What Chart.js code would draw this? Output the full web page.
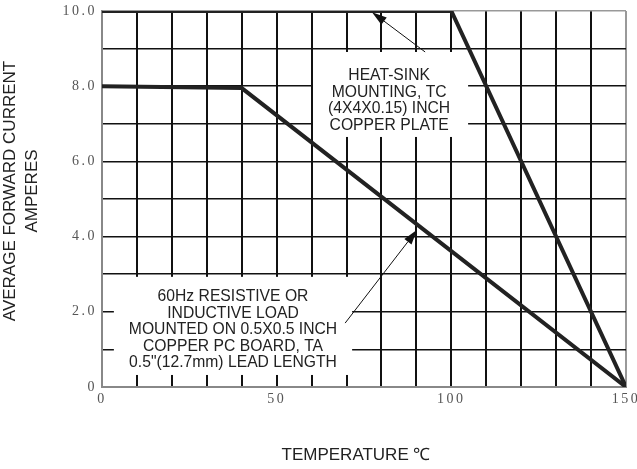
<!DOCTYPE html>
<html><head><meta charset="utf-8">
<script src="https://cdn.jsdelivr.net/npm/chart.js@4/dist/chart.umd.min.js"></script>
<style>html,body{margin:0;padding:0;background:#fff;overflow:hidden}#wrap{width:637px;height:469px;position:relative}</style>
</head><body><div id="wrap"><canvas id="c" width="637" height="469"></canvas></div>
<script>
// ---- data ----
const heatSinkTemps = [0, 100, 150];
const heatSinkAmps  = [10, 10, 0];
const pcBoardTemps  = [0, 40, 150];
const pcBoardAmps   = [8, 7.95, 0];
const xTickValues = [0, 50, 100, 150];
const yTickValues = [0, 2, 4, 6, 8, 10];
const yTickLabels = ['0', '2.0', '4.0', '6.0', '8.0', '10.0'];
const yTitleLines = ['AVERAGE FORWARD CURRENT', 'AMPERES'];
const xTitle = 'TEMPERATURE \u2103';
const heatSinkNote = ['HEAT-SINK', 'MOUNTING, TC', '(4X4X0.15) INCH', 'COPPER PLATE'];
const pcBoardNote  = ['60Hz RESISTIVE OR', 'INDUCTIVE LOAD', 'MOUNTED ON 0.5X0.5 INCH', 'COPPER PC BOARD, TA', '0.5"(12.7mm) LEAD LENGTH'];

// ---- annotation placement (data units) ----
const notes = [
  { lines: heatSinkNote, box: [60.4, 104.8, 8.91, 6.65], cx: 82.2, firstY: 8.27,
    arrow: { from: [92.5, 8.91], to: [77.3, 9.97] } },
  { lines: pcBoardNote, box: [3.4, 71.6, 2.93, 0.32], cx: 37.5, firstY: 2.39,
    arrow: { from: [69.6, 1.70], to: [90.2, 4.18] } }
];

const NOTE_FONT = '15.7px "Liberation Sans", Arial, sans-serif';
const LINE_GAP = 16.5;

const notesPlugin = {
  id: 'notes',
  beforeDraw(chart) { chart.ctx.letterSpacing = '2.5px'; },
  beforeDatasetsDraw(chart) {
    const { ctx, scales: { x, y } } = chart;
    ctx.save();
    ctx.letterSpacing = '0px';
    for (const n of notes) {
      const l = x.getPixelForValue(n.box[0]), r = x.getPixelForValue(n.box[1]);
      const t = y.getPixelForValue(n.box[2]), b = y.getPixelForValue(n.box[3]);
      ctx.fillStyle = '#fff';
      ctx.fillRect(l, t, r - l, b - t);
      ctx.fillStyle = '#222';
      ctx.font = NOTE_FONT;
      ctx.textAlign = 'center';
      ctx.textBaseline = 'middle';
      const cx = x.getPixelForValue(n.cx);
      const y0 = y.getPixelForValue(n.firstY);
      n.lines.forEach((s, i) => ctx.fillText(s, cx, y0 + i * LINE_GAP));
    }
    ctx.restore();
  },
  afterDatasetsDraw(chart) {
    const { ctx, scales: { x, y } } = chart;
    ctx.save();
    for (const n of notes) {
      const x1 = x.getPixelForValue(n.arrow.from[0]), y1 = y.getPixelForValue(n.arrow.from[1]);
      const x2 = x.getPixelForValue(n.arrow.to[0]), y2 = y.getPixelForValue(n.arrow.to[1]);
      const ang = Math.atan2(y2 - y1, x2 - x1);
      const len = 15, hw = 4.5;
      const bx = x2 - len * Math.cos(ang), by = y2 - len * Math.sin(ang);
      ctx.strokeStyle = '#111'; ctx.lineWidth = 1;
      ctx.beginPath(); ctx.moveTo(x1, y1); ctx.lineTo(bx, by); ctx.stroke();
      ctx.fillStyle = '#111';
      ctx.beginPath();
      ctx.moveTo(x2, y2);
      ctx.lineTo(bx + hw * Math.sin(ang), by - hw * Math.cos(ang));
      ctx.lineTo(bx - hw * Math.sin(ang), by + hw * Math.cos(ang));
      ctx.closePath(); ctx.fill();
    }
    ctx.restore();
  },
  afterDraw(chart) {
    const { ctx } = chart;
    ctx.save();
    ctx.letterSpacing = '0px';
    ctx.fillStyle = '#222';
    ctx.font = '17px "Liberation Sans", Arial, sans-serif';
    ctx.textAlign = 'center';
    ctx.textBaseline = 'middle';
    ctx.save();
    ctx.translate(10, 191);
    ctx.rotate(-Math.PI / 2);
    yTitleLines.forEach((s, i) => ctx.fillText(s, 0, i * 22));
    ctx.restore();
    ctx.fillText(xTitle, 356, 455);
    ctx.restore();
  }
};

const tickFont = { family: '"Liberation Serif", "Times New Roman", serif', size: 14 };

new Chart(document.getElementById('c'), {
  type: 'line',
  data: {
    datasets: [
      { data: heatSinkTemps.map((t, i) => ({ x: t, y: heatSinkAmps[i] })),
        borderColor: '#222', borderWidth: 4, pointRadius: 0, tension: 0, borderJoinStyle: 'miter' },
      { data: pcBoardTemps.map((t, i) => ({ x: t, y: pcBoardAmps[i] })),
        borderColor: '#222', borderWidth: 4, pointRadius: 0, tension: 0, borderJoinStyle: 'miter' }
    ]
  },
  options: {
    responsive: false,
    devicePixelRatio: 1,
    animation: false,
    layout: { padding: { top: 11, right: 11, left: 0, bottom: 0 } },
    plugins: { legend: { display: false }, tooltip: { enabled: false } },
    scales: {
      x: {
        type: 'linear', min: 0, max: 150,
        ticks: { stepSize: 10, autoSkip: false, maxRotation: 0, minRotation: 0, padding: 4,
                 color: '#555', font: tickFont,
                 callback: v => xTickValues.includes(v) ? String(v) : '' },
        grid: { drawTicks: false, lineWidth: 2,
                color: c => (c.tick && c.tick.value === 150) ? '#999' : '#111' },
        border: { color: '#888', width: 2 },
        afterFit(s) { s.height = 82; s.paddingLeft = 0; s.paddingRight = 0; }
      },
      y: {
        type: 'linear', min: 0, max: 10,
        ticks: { stepSize: 1, autoSkip: false, padding: 5, color: '#555', font: tickFont,
                 callback: v => { const i = yTickValues.indexOf(v); return i >= 0 ? yTickLabels[i] : ''; } },
        grid: { drawTicks: false, lineWidth: 1.6,
                color: c => (c.tick && c.tick.value === 10) ? '#999' : '#111' },
        border: { color: '#888', width: 2 },
        afterFit(s) { s.width = 102; s.paddingTop = 0; s.paddingBottom = 0; }
      }
    }
  },
  plugins: [notesPlugin]
});
</script>
</body></html>
